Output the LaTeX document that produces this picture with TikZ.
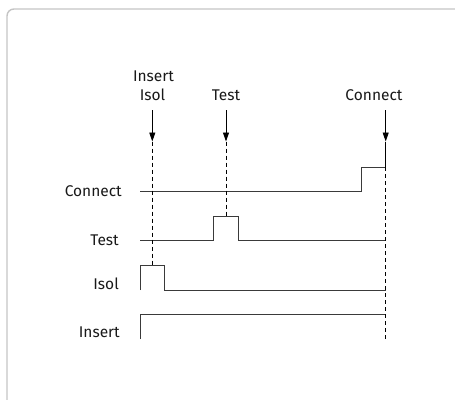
\documentclass[tikz,border=0pt]{standalone}
\usepackage{fontspec}
\setmainfont{Fira Sans}
\usetikzlibrary{arrows.meta}
\definecolor{framegray}{HTML}{C4C4C4}
\definecolor{sig}{HTML}{3A3A3A}
\begin{document}
\begin{tikzpicture}[x=1pt,y=-1pt,
  sigline/.style={draw=sig,line width=1pt},
  guide/.style={draw=black,line width=0.9pt,dash pattern=on 4pt off 3pt},
  trig/.style={draw=black,line width=0.9pt,-{Triangle[length=9pt,width=6pt]}},
  lbl/.style={font=\fontsize{15.5}{18}\selectfont,inner sep=0pt,text=black!90},
  toplbl/.style={lbl,align=center}]
\useasboundingbox (0,0) rectangle (455,399);
\draw[framegray,line width=1.4pt,rounded corners=7pt] (7,420) -- (7,9) -- (470,9);
% top labels
\node[toplbl,anchor=base] (tIns) at (153.5,81) {Insert};
\node[toplbl,anchor=base] (tIso) at (152.5,100) {Isol};
\node[toplbl,anchor=base] (tTest) at (226,100) {Test};
\node[toplbl,anchor=base] (tCon) at (374,100) {Connect};
% left labels
\node[lbl,anchor=east] (lCon) at (122,191.5) {Connect};
\node[lbl,anchor=east] (lTest) at (119,240.5) {Test};
\node[lbl,anchor=east] (lIso) at (119,284) {Isol};
\node[lbl,anchor=east] (lIns) at (120,332) {Insert};
% arrow coordinates
\coordinate (a1s) at (152.3,110);
\coordinate (a1e) at (152.3,141.5);
\coordinate (a2s) at (226,110);
\coordinate (a2e) at (226,141.5);
\coordinate (a3s) at (385.7,110);
\coordinate (a3e) at (385.7,141.5);
% signals
\draw[sigline] (140,191.7) -- (361,191.7) -- (361,167) -- coordinate[pos=1] (conTop) (385.7,167);
\draw[sigline] (140,240.7) -- (213.3,240.7) -- (213.3,216.3) -- coordinate[midway] (testTop) (238.3,216.3) -- (238.3,240.7) -- (385.7,240.7);
\draw[sigline] (140,290) -- (140,265.7) -- coordinate[pos=0.5] (isoTop) (164.3,265.7) -- (164.3,290) -- (385.7,290);
\draw[sigline] (140,339) -- (140,314) -- (385.7,314);
\coordinate (isoT) at (152.3,265.7);
\coordinate (testT) at (226,216.3);
\coordinate (conEnd) at (385.7,339);
% guides
\draw[guide] (a1e) -- (isoT);
\draw[guide] (a2e) -- (testT);
\draw[draw=black,line width=0.9pt] (a3e) -- (conTop);
\draw[guide] (conTop) -- (conEnd);
% trigger arrows
\draw[trig] (a1s) -- (a1e);
\draw[trig] (a2s) -- (a2e);
\draw[trig] (a3s) -- (a3e);
\end{tikzpicture}
\end{document}
